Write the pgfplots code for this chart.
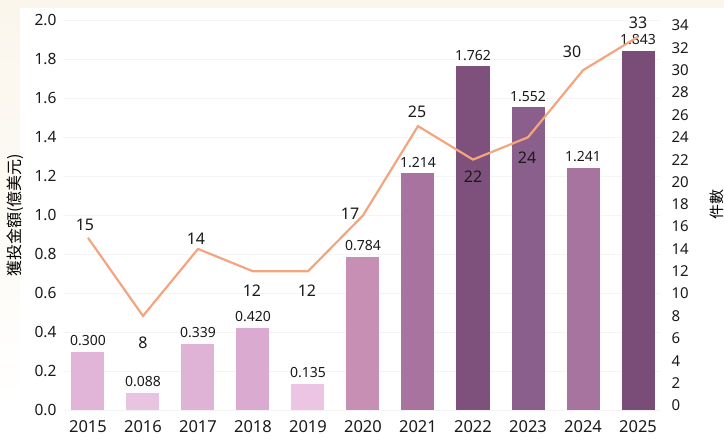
\documentclass[border=0pt]{standalone}
\usepackage{fontspec}
\setmainfont{Noto Sans}
\newfontfamily\cjk{Noto Sans CJK TC}
\usepackage{pgfplots}
\pgfplotsset{compat=1.18}
\definecolor{b15}{HTML}{E0B5D8}
\definecolor{b16}{HTML}{E9C4E2}
\definecolor{b17}{HTML}{DFB3D6}
\definecolor{b18}{HTML}{DAAAD0}
\definecolor{b19}{HTML}{EBC5E3}
\definecolor{b20}{HTML}{C88FB5}
\definecolor{b21}{HTML}{A8739E}
\definecolor{b22}{HTML}{7E507C}
\definecolor{b23}{HTML}{8B5F8B}
\definecolor{b24}{HTML}{A6749E}
\definecolor{b25}{HTML}{7A4D78}
\definecolor{lineC}{HTML}{F4A57F}
\definecolor{txt}{HTML}{1A1A1A}
\definecolor{gridC}{HTML}{F4F4F4}
\definecolor{bgC}{HTML}{FBF6EC}
\pgfplotstableread{
x y
0 15
1 8
2 14
3 12
4 12
5 17
6 25
7 22
8 24
9 30
10 33
}\counts
\pgfplotsset{
  lab/.style 2 args={draw=none, mark=none, forget plot, nodes near coords,
    every node near coord/.append style={anchor=center, xshift=#1, yshift=#2,
      font={\fontsize{16}{18}\selectfont}, text=txt}},
}
\begin{document}
\begin{tikzpicture}
\fill[bgC] (-63pt,402pt) rectangle (661pt,410pt);
\shade[top color=bgC, bottom color=white] (-63pt,0pt) rectangle (-43pt,402pt);
\begin{axis}[
  scale only axis, width=597pt, height=390pt,
  xmin=-0.4545, xmax=10.4, ymin=0, ymax=2.0,
  axis line style={draw=none}, major tick length=0pt,
  ytick={0,0.2,0.4,0.6,0.8,1.0,1.2,1.4,1.6,1.8,2.0},
  yticklabel style={/pgf/number format/fixed, /pgf/number format/fixed zerofill, /pgf/number format/precision=1, font={\fontsize{15.5}{17}\selectfont}, text=txt, xshift=-3pt},
  /pgf/number format/assume math mode=true,
  xtick={0,1,2,3,4,5,6,7,8,9,10},
  xticklabels={2015,2016,2017,2018,2019,2020,2021,2022,2023,2024,2025},
  xticklabel style={font={\fontsize{16.5}{18}\selectfont}, text=txt, yshift=-7pt},
  ymajorgrids, grid style={color=gridC, line width=0.6pt},
  ybar, bar width=33pt, bar shift=0pt,
  nodes near coords,
  nodes near coords style={font={\fontsize{14}{16}\selectfont}, text=txt, anchor=south, yshift=2.5pt, /pgf/number format/fixed, /pgf/number format/fixed zerofill, /pgf/number format/precision=3},
  every axis y label/.style={at={(axis description cs:0,0.5)}, xshift=-48pt, rotate=90, anchor=center},
  ylabel={\cjk\fontsize{16}{18}\selectfont 獲投金額(億美元)},
]
\addplot[fill=b15, draw=none, bar shift=0pt] coordinates {(0,0.300)};
\addplot[fill=b16, draw=none, bar shift=0pt] coordinates {(1,0.088)};
\addplot[fill=b17, draw=none, bar shift=0pt] coordinates {(2,0.339)};
\addplot[fill=b18, draw=none, bar shift=0pt] coordinates {(3,0.420)};
\addplot[fill=b19, draw=none, bar shift=0pt] coordinates {(4,0.135)};
\addplot[fill=b20, draw=none, bar shift=0pt] coordinates {(5,0.784)};
\addplot[fill=b21, draw=none, bar shift=0pt] coordinates {(6,1.214)};
\addplot[fill=b22, draw=none, bar shift=0pt] coordinates {(7,1.762)};
\addplot[fill=b23, draw=none, bar shift=0pt] coordinates {(8,1.552)};
\addplot[fill=b24, draw=none, bar shift=0pt] coordinates {(9,1.241)};
\addplot[fill=b25, draw=none, bar shift=0pt] coordinates {(10,1.843)};
\end{axis}
\begin{axis}[
  scale only axis, width=597pt, height=390pt,
  xmin=-0.4545, xmax=10.4, ymin=-0.42, ymax=34.5,
  axis y line*=right, axis x line=none,
  y axis line style={draw=none}, major tick length=0pt,
  ytick={0,2,4,6,8,10,12,14,16,18,20,22,24,26,28,30,32,34},
  /pgf/number format/assume math mode=true,
  yticklabel style={font={\fontsize{15}{17}\selectfont}, text=txt, anchor=west, xshift=8pt},
  every axis y label/.style={at={(axis description cs:1,0.5)}, xshift=57pt, yshift=10pt, rotate=90, anchor=center},
  ylabel={\cjk\fontsize{15}{17}\selectfont 件數},
]
\addplot[color=lineC, line width=2.2pt, mark=none] table[x=x, y=y] {\counts};
\addplot[lab={-3pt}{13pt}] coordinates {(0,15)};
\addplot[lab={0pt}{-27pt}] coordinates {(1,8)};
\addplot[lab={-2pt}{10pt}] coordinates {(2,14)};
\addplot[lab={-1pt}{-19pt}] coordinates {(3,12)};
\addplot[lab={-1pt}{-19pt}] coordinates {(4,12)};
\addplot[lab={-13pt}{1.5pt}] coordinates {(5,17)};
\addplot[lab={-1pt}{14pt}] coordinates {(6,25)};
\addplot[lab={0pt}{-17pt}] coordinates {(7,22)};
\addplot[lab={-1pt}{-20pt}] coordinates {(8,24)};
\addplot[lab={-11pt}{18pt}] coordinates {(9,30)};
\addplot[lab={0pt}{14pt}] coordinates {(10,33)};
\end{axis}
\pgfresetboundingbox
\useasboundingbox (-63pt,-30pt) rectangle (661pt,410pt);
\end{tikzpicture}
\end{document}
